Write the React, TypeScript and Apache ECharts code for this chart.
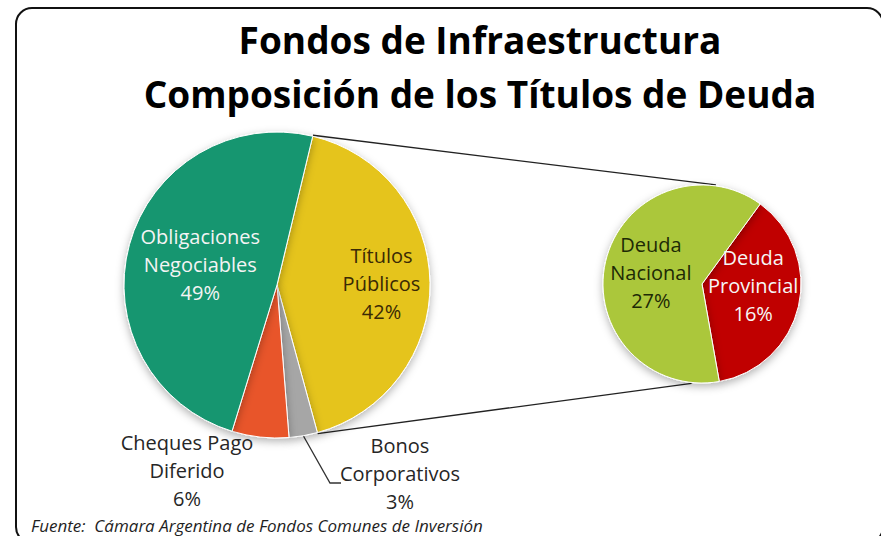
import React, { useEffect, useRef } from "react";
import * as echarts from "echarts";

const titleLines = ["Fondos de Infraestructura", "Composición de los Títulos de Deuda"];
const sourceText = "Fuente:  Cámara Argentina de Fondos Comunes de Inversión";

const mainNames = ["Títulos Públicos", "Bonos Corporativos", "Cheques Pago Diferido", "Obligaciones Negociables"];
const mainLabels = ["Títulos\nPúblicos", "Bonos\nCorporativos", "Cheques Pago\nDiferido", "Obligaciones\nNegociables"];
const mainValues = [42, 3, 6, 49];
const mainColors = ["#e5c41f", "#a6a6a6", "#e8542a", "#18966f"];
const mainTextColors = ["#3a2a05", "#262626", "#262626", "#f4f4f4"];

const subNames = ["Deuda Provincial", "Deuda Nacional"];
const subLabels = ["Deuda\nProvincial", "Deuda\nNacional"];
const subValues = [16, 27];
const subColors = ["#c00000", "#abc73a"];
const subTextColors = ["#f6f6f6", "#1d2a05"];

const FONT = "Open Sans";

// layout of the two pies
const MAIN_C = [277, 285];
const MAIN_R = 153;
const MAIN_START = 76.5;
const SUB_C = [702, 284];
const SUB_R = 99;
const SUB_START = 54;

function pt(c: number[], r: number, cwDegFromTop: number) {
  const a = (cwDegFromTop * Math.PI) / 180;
  return [c[0] + r * Math.sin(a), c[1] - r * Math.cos(a)];
}

export default function App() {
  const ref = useRef<HTMLDivElement>(null);
  useEffect(() => {
    document.body.style.margin = "0";
    const chart = echarts.init(ref.current!, null, { renderer: "svg" });

    const total = mainValues.reduce((a, b) => a + b, 0);
    const startCw = 90 - MAIN_START;
    const endCw = startCw + (mainValues[0] / total) * 360;
    const p1 = pt(MAIN_C, MAIN_R + 1, startCw);
    const p2 = pt(MAIN_C, MAIN_R + 1, endCw);
    const q1 = pt(SUB_C, SUB_R + 1, 8);
    const q2 = pt(SUB_C, SUB_R + 1, 186);

    chart.setOption({
      animation: false,
      title: {
        text: titleLines.join("\n"),
        left: 475,
        top: 7,
        textAlign: "center",
        textStyle: { fontFamily: FONT, fontWeight: "bold", fontSize: 37, lineHeight: 54, color: "#000" },
      },
      graphic: [
        {
          type: "rect",
          shape: { x: 16, y: 8, width: 867, height: 535, r: 16 },
          style: { fill: "none", stroke: "#111", lineWidth: 2 },
          z: 0,
        },
        {
          type: "line",
          shape: { x1: p1[0], y1: p1[1], x2: q1[0], y2: q1[1] },
          style: { stroke: "#222", lineWidth: 1.3 },
          z: 1,
        },
        {
          type: "line",
          shape: { x1: p2[0], y1: p2[1], x2: q2[0], y2: q2[1] },
          style: { stroke: "#222", lineWidth: 1.3 },
          z: 1,
        },
        {
          type: "text",
          x: 31,
          y: 525.5,
          style: {
            text: sourceText,
            fontFamily: FONT,
            fontStyle: "italic",
            fontSize: 17,
            fill: "#1f1f1f",
            verticalAlign: "middle",
          },
          z: 5,
        },
      ],
      series: [
        {
          type: "pie",
          center: MAIN_C,
          radius: MAIN_R,
          startAngle: MAIN_START,
          clockwise: true,
          avoidLabelOverlap: false,
          itemStyle: {
            borderColor: "#fff",
            borderWidth: 1,
            shadowBlur: 8,
            shadowColor: "rgba(0,0,0,0.3)",
            shadowOffsetY: 3,
          },
          label: {
            show: true,
            position: "inside",
            fontFamily: FONT,
            fontSize: 20,
            lineHeight: 28,
            align: "center",
          },
          labelLine: { show: false },
          emphasis: { disabled: true },
          data: mainNames.map((n, i) => ({
            name: n,
            value: mainValues[i],
            itemStyle: { color: mainColors[i] },
            label: {
              color: mainTextColors[i],
              position: i === 1 || i === 2 ? "outside" : "inside",
              formatter: () => mainLabels[i] + "\n" + mainValues[i] + "%",
            },
            labelLine: { show: i === 1, lineStyle: { color: "#333", width: 1.3 } },
          })),
          labelLayout: (params: any) => {
            const i = params.dataIndex;
            if (i === 0) return { dx: 25, dy: 0 };
            if (i === 1) {
              const res: any = { x: 400, y: 473, align: "center", verticalAlign: "middle" };
              if (params.labelLinePoints && params.labelLinePoints[0]) {
                res.labelLinePoints = [params.labelLinePoints[0], [330, 483], [341, 483]];
              }
              return res;
            }
            if (i === 2) return { x: 187, y: 470, align: "center", verticalAlign: "middle" };
            return {};
          },
        },
        {
          type: "pie",
          center: SUB_C,
          radius: SUB_R,
          startAngle: SUB_START,
          clockwise: true,
          avoidLabelOverlap: false,
          itemStyle: {
            borderColor: "#fff",
            borderWidth: 1,
            shadowBlur: 8,
            shadowColor: "rgba(0,0,0,0.3)",
            shadowOffsetY: 3,
          },
          label: {
            show: true,
            position: "inside",
            fontFamily: FONT,
            fontSize: 20,
            lineHeight: 28,
            align: "center",
          },
          labelLine: { show: false },
          emphasis: { disabled: true },
          data: subNames.map((n, i) => ({
            name: n,
            value: subValues[i],
            itemStyle: { color: subColors[i] },
            label: {
              color: subTextColors[i],
              formatter: () => subLabels[i] + "\n" + subValues[i] + "%",
            },
          })),
          labelLayout: (params: any) => {
            if (params.dataIndex === 0) return { dy: -10 };
            return {};
          },
        },
      ],
    });
    return () => chart.dispose();
  }, []);
  return <div ref={ref} style={{ width: 881, height: 536 }} />;
}
